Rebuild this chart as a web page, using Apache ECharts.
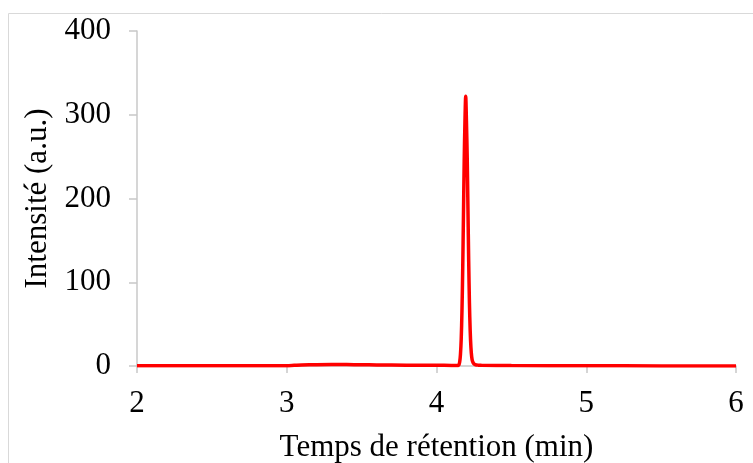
<!DOCTYPE html>
<html><head><meta charset="utf-8">
<script src="https://cdn.jsdelivr.net/npm/echarts@6/dist/echarts.min.js"></script>
<style>html,body{margin:0;padding:0;background:#fff}#c{width:753px;height:463px}</style>
</head><body><div id="c"></div>
<script>
const retentionTimes = [2.0,2.5,3.0,3.05,3.1,3.2,3.3,3.4,3.5,3.6,3.8,4.0,4.1,4.14,4.145,4.15,4.155,4.16,4.165,4.17,4.175,4.18,4.185,4.19,4.195,4.2,4.205,4.21,4.215,4.22,4.225,4.23,4.235,4.24,4.25,4.26,4.28,4.3,4.5,5.0,5.5,6.0];
const intensities    = [0.2,0.2,0.4,0.8,1.2,1.6,1.8,1.7,1.5,1.3,1.0,0.8,0.7,0.6,0.8,1.5,5,14,32,65,115,180,245,292,322,292,250,188,125,75,42,22,11,6,2.5,1.5,1.0,0.8,0.5,0.3,0.1,0.0];
const yTicks = [0,100,200,300,400];
const xTicks = [2,3,4,5,6];

const font = '"Liberation Serif","Times New Roman",serif';
const chart = echarts.init(document.getElementById('c'));
chart.setOption({
  animation:false,
  graphic:[{type:'rect',shape:{x:8.5,y:13.5,width:760,height:470},style:{fill:'none',stroke:'#d9d9d9',lineWidth:1},silent:true,z:-1}],
  grid:{left:137,right:17,top:31,bottom:97,containLabel:false,outerBoundsMode:'none'},
  xAxis:{type:'value',min:xTicks[0],max:xTicks[xTicks.length-1],interval:1,
    name:'Temps de rétention (min)',nameLocation:'middle',nameGap:66,
    nameTextStyle:{fontFamily:font,fontSize:31,color:'#000'},
    axisLine:{show:true,onZero:false,lineStyle:{color:'#c8c8c8',width:1.5}},
    axisTick:{show:true,length:7,lineStyle:{color:'#c8c8c8',width:1.5}},
    axisLabel:{fontFamily:font,fontSize:31,color:'#000',margin:22},
    splitLine:{show:false}},
  yAxis:{type:'value',min:yTicks[0],max:yTicks[yTicks.length-1],interval:100,
    name:'Intensité (a.u.)',nameLocation:'middle',nameGap:84,nameRotate:90,
    nameTextStyle:{fontFamily:font,fontSize:31,color:'#000'},
    axisLine:{show:true,lineStyle:{color:'#c8c8c8',width:1.5}},
    axisTick:{show:true,length:8,lineStyle:{color:'#c8c8c8',width:1.5}},
    axisLabel:{fontFamily:font,fontSize:31,color:'#000',margin:26},
    splitLine:{show:false}},
  series:[{type:'line',data:retentionTimes.map((t,i)=>[t,intensities[i]]),
    showSymbol:false,smooth:0.3,lineStyle:{color:'#ff0000',width:3.5},itemStyle:{color:'#ff0000'}}]
});
</script></body></html>
